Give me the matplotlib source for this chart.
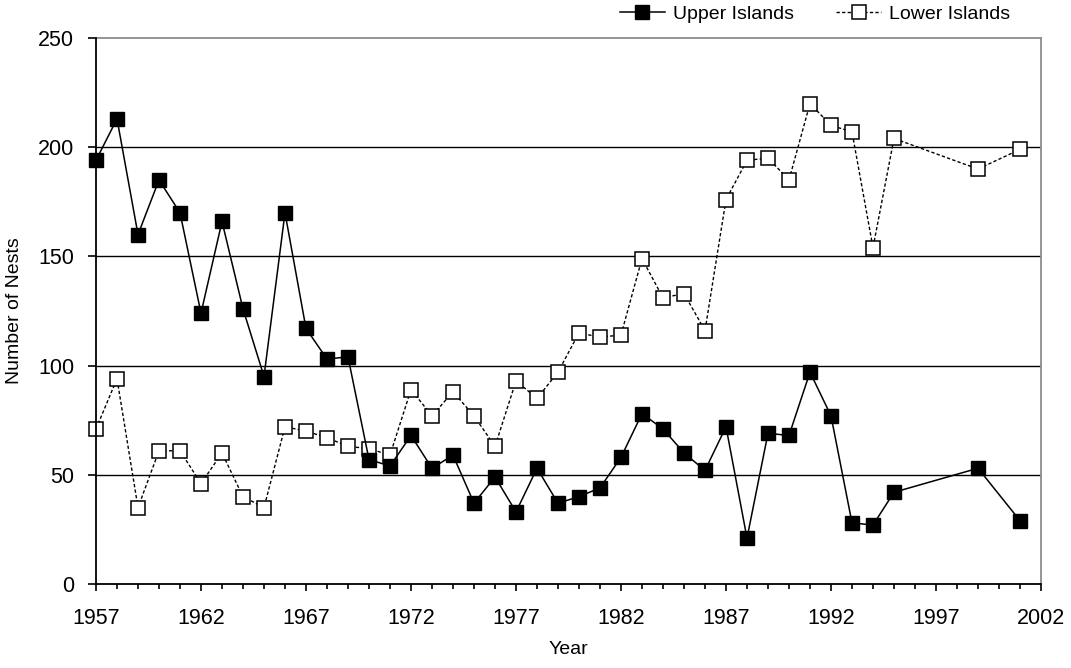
import matplotlib
matplotlib.use("Agg")
import matplotlib.pyplot as plt
from matplotlib.ticker import MultipleLocator

plt.rcParams['font.family'] = ['Liberation Sans', 'DejaVu Sans']

upper_years = [1957, 1958, 1959, 1960, 1961, 1962, 1963, 1964, 1965, 1966, 1967, 1968, 1969,
               1970, 1971, 1972, 1973, 1974, 1975, 1976, 1977, 1978, 1979, 1980, 1981, 1982,
               1983, 1984, 1985, 1986, 1987, 1988, 1989, 1990, 1991, 1992, 1993, 1994, 1995,
               1999, 2001]
upper_nests = [194, 213, 160, 185, 170, 124, 166, 126, 95, 170, 117, 103, 104,
               57, 54, 68, 53, 59, 37, 49, 33, 53, 37, 40, 44, 58,
               78, 71, 60, 52, 72, 21, 69, 68, 97, 77, 28, 27, 42,
               53, 29]

lower_years = [1957, 1958, 1959, 1960, 1961, 1962, 1963, 1964, 1965, 1966, 1967, 1968, 1969,
               1970, 1971, 1972, 1973, 1974, 1975, 1976, 1977, 1978, 1979, 1980, 1981, 1982,
               1983, 1984, 1985, 1986, 1987, 1988, 1989, 1990, 1991, 1992, 1993, 1994, 1995,
               1999, 2001]
lower_nests = [71, 94, 35, 61, 61, 46, 60, 40, 35, 72, 70, 67, 63,
               62, 59, 89, 77, 88, 77, 63, 93, 85, 97, 115, 113, 114,
               149, 131, 133, 116, 176, 194, 195, 185, 220, 210, 207, 154, 204,
               190, 199]

y_ticks = [0, 50, 100, 150, 200, 250]
x_ticks = [1957, 1962, 1967, 1972, 1977, 1982, 1987, 1992, 1997, 2002]

W, H = 1071, 668
fig = plt.figure(figsize=(W / 100, H / 100), dpi=100)
ax = fig.add_axes([96 / W, (H - 584) / H, (1041 - 96) / W, (584 - 38) / H])

ax.set_xlim(1957, 2002)
ax.set_ylim(0, 250)

for v in y_ticks[1:-1]:
    ax.axhline(v, color='black', lw=1.0, zorder=1)

ax.plot(upper_years, upper_nests, color='black', lw=1.1, marker='s',
        markersize=9.5, markerfacecolor='black', markeredgecolor='black',
        label='Upper Islands', zorder=4, clip_on=False)
ax.plot(lower_years, lower_nests, color='black', lw=1.0, dashes=(2.4, 1.6),
        marker='s', markersize=9.5, markerfacecolor='white',
        markeredgecolor='black', markeredgewidth=1.1,
        label='Lower Islands', zorder=3, clip_on=False)

ax.set_yticks(y_ticks)
ax.set_xticks(x_ticks)
ax.xaxis.set_minor_locator(MultipleLocator(1))

for s in ['top', 'right']:
    ax.spines[s].set_color('#8c8c8c')
    ax.spines[s].set_linewidth(1.3)
for s in ['left', 'bottom']:
    ax.spines[s].set_color('black')
    ax.spines[s].set_linewidth(1.3)
    ax.spines[s].set_zorder(5)

ax.tick_params(axis='y', which='major', direction='out', length=5.8, width=1.2,
               labelsize=15.5, pad=10)
ax.tick_params(axis='x', which='major', direction='out', length=5.2, width=1.2,
               labelsize=15.5, pad=12)
ax.tick_params(axis='x', which='minor', direction='out', length=3.5, width=1.2)

ax.set_xlabel('Year', fontsize=14)
ax.set_ylabel('Number of Nests', fontsize=14)
ax.xaxis.set_label_coords(0.5, -0.105)
ax.yaxis.set_label_coords(-0.077, 0.5)

fig.legend(loc='center right', bbox_to_anchor=(1010 / W, 1 - 14 / H), ncol=2,
           frameon=False, fontsize=14, handlelength=2.3, handletextpad=0.4,
           columnspacing=2.2, borderaxespad=0, borderpad=0)

fig.savefig('out.png', dpi=100)
